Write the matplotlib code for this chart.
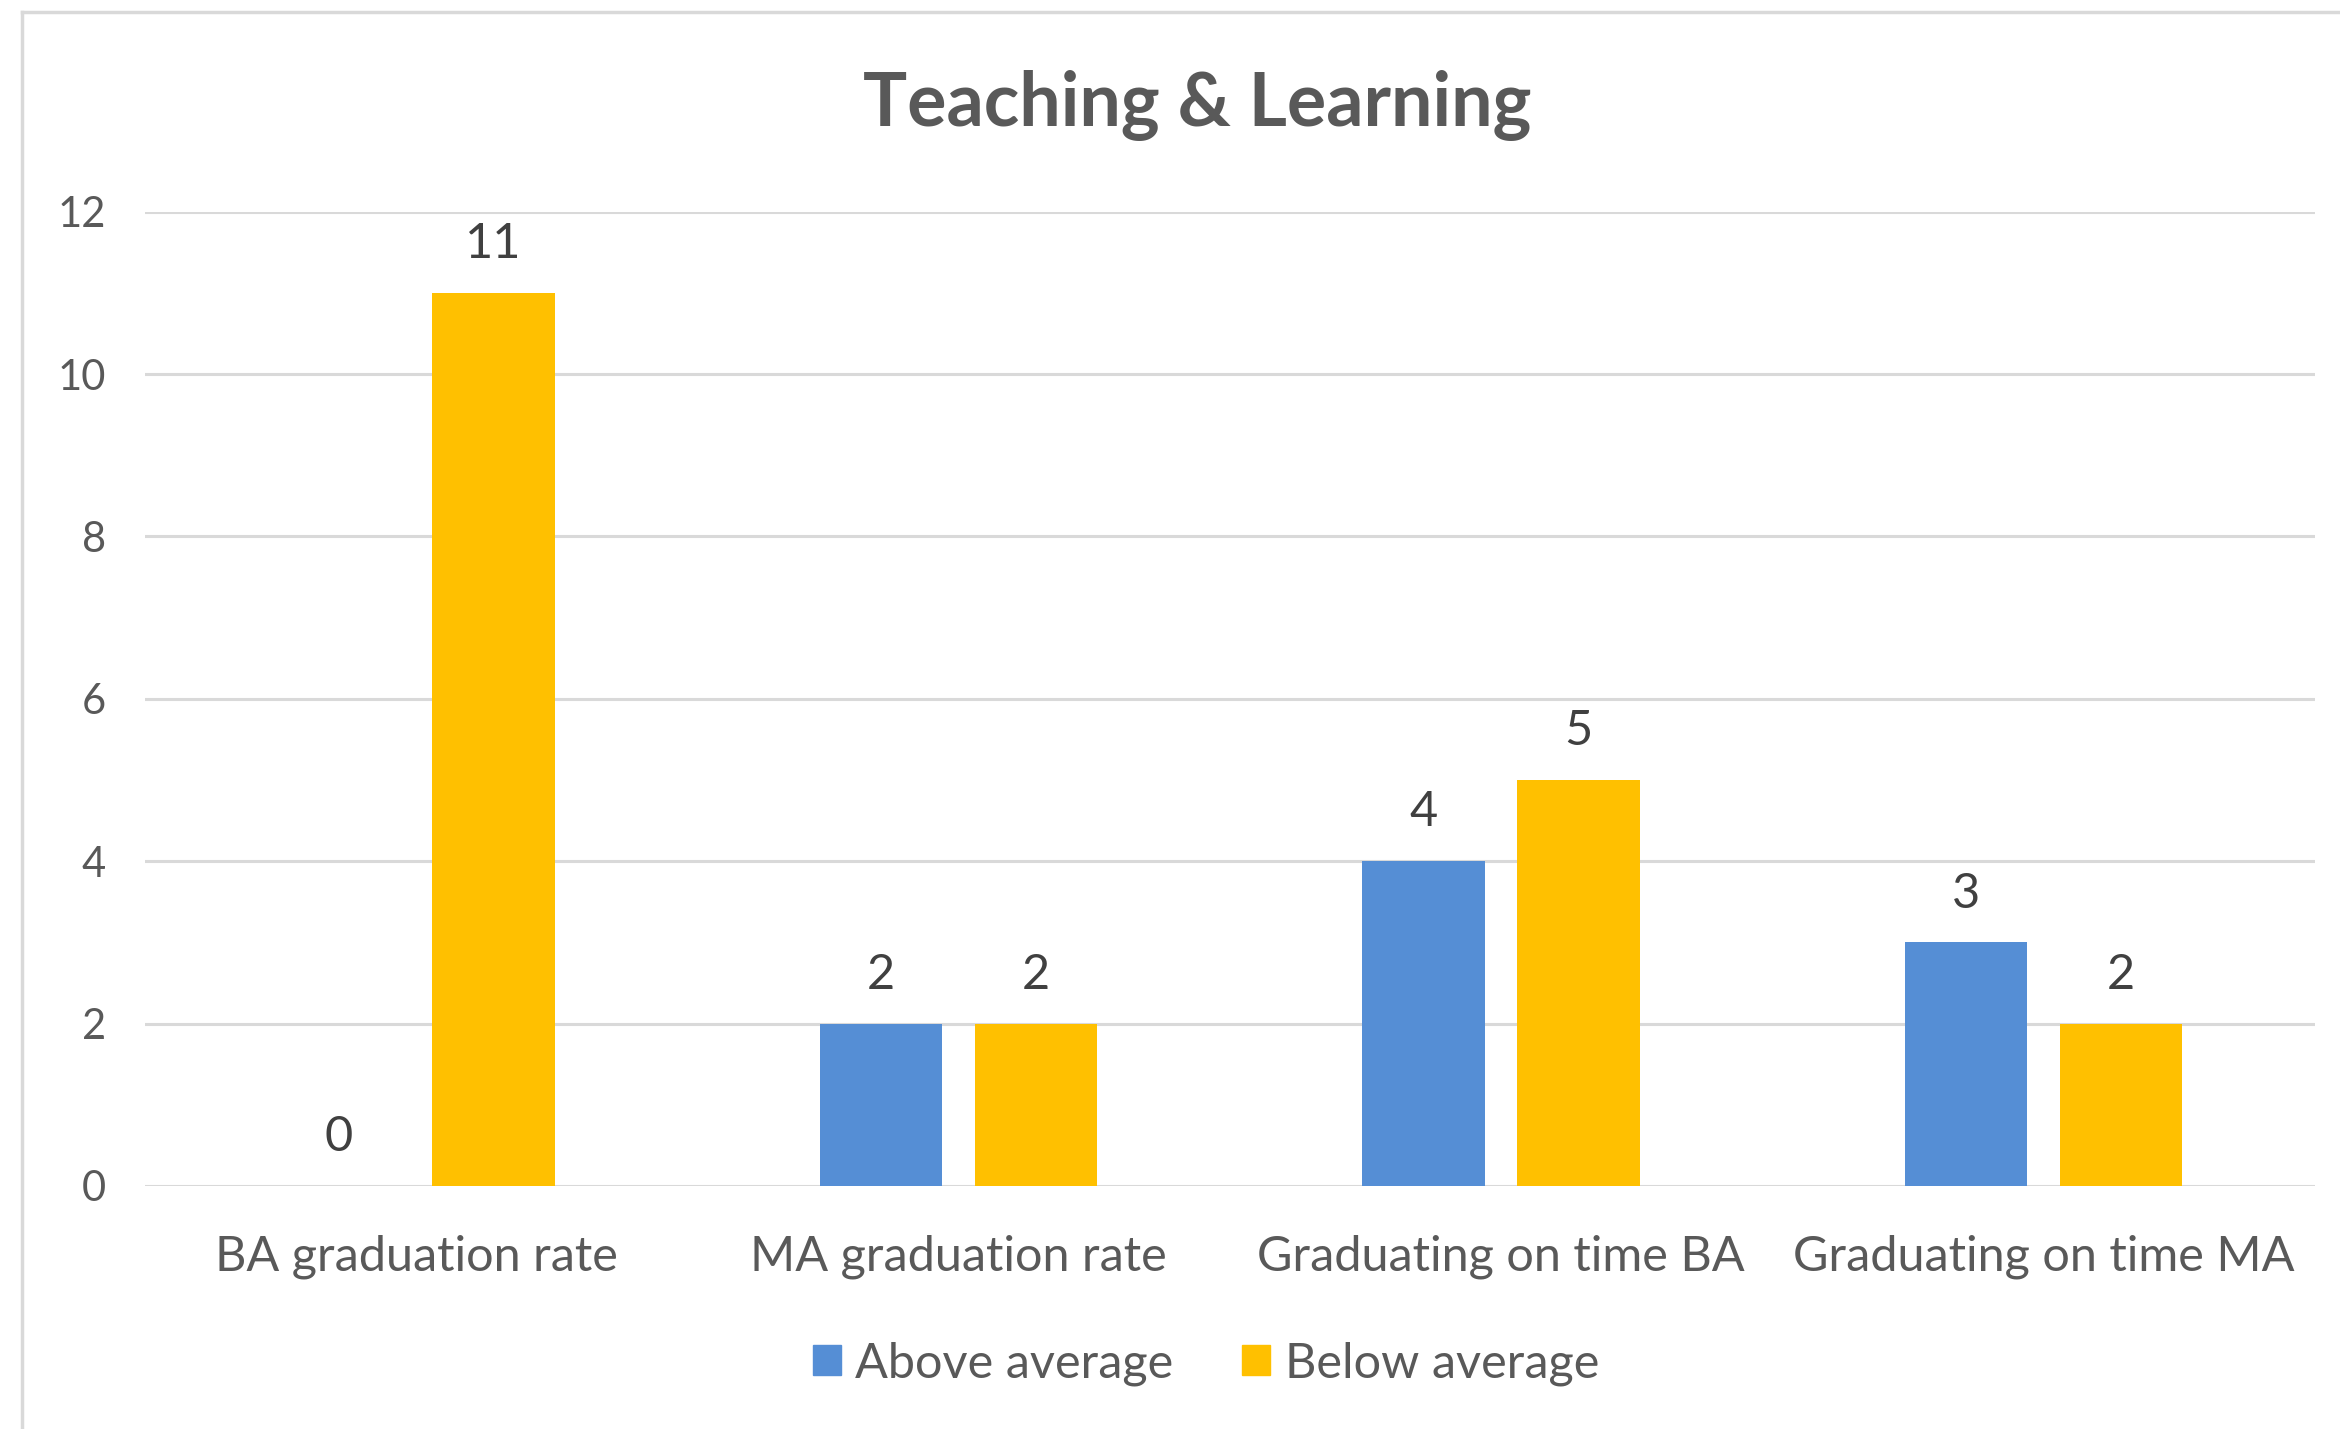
import matplotlib
matplotlib.use("Agg")
import matplotlib.pyplot as plt
import numpy as np
from matplotlib.patches import Patch
from matplotlib.lines import Line2D

categories = ["BA graduation rate", "MA graduation rate", "Graduating on time BA", "Graduating on time MA"]
above = [0, 2, 4, 3]
below = [11, 2, 5, 2]
series_names = ["Above average", "Below average"]
yticks = [0, 2, 4, 6, 8, 10, 12]

BLUE = "#558ed5"
YELLOW = "#ffc000"
GRID = "#d9d9d9"
TXT = "#595959"
LBL = "#404040"
FONT = "Lato"

fig = plt.figure(figsize=(23.4, 14.29), dpi=100)
ax = fig.add_axes([97/1568, 1 - 795/958, (1551 - 97)/1568, (795 - 142)/958])

x = np.arange(len(categories))
bw = 0.2256
gap = 0.06
off = (bw + gap) / 2
b1 = ax.bar(x - off, above, bw, color=BLUE, zorder=3)
b2 = ax.bar(x + off, below, bw, color=YELLOW, zorder=3)

for bars, vals in ((b1, above), (b2, below)):
    for r, v in zip(bars, vals):
        ax.annotate(str(v), (r.get_x() + r.get_width() / 2, v), xytext=(0, 25),
                    textcoords="offset points", ha="center", va="baseline",
                    fontsize=35, color=LBL, family=FONT)

ax.set_xlim(-0.5, len(categories) - 0.5)
ax.set_ylim(0, 12)
ax.set_yticks(yticks)
ax.set_xticks(x)
ax.set_xticklabels(categories)
for s in ax.spines.values():
    s.set_visible(False)
ax.grid(axis="y", color=GRID, linewidth=2.2, zorder=0)
ax.tick_params(axis="both", length=0)
ax.tick_params(axis="y", pad=28, labelsize=30, labelcolor=TXT)
ax.tick_params(axis="x", pad=35, labelsize=35, labelcolor=TXT)
for t in ax.get_xticklabels() + ax.get_yticklabels():
    t.set_family(FONT)

fig.text(802/1568, 1 - 71/958, "Teaching & Learning", ha="center", va="center",
         fontsize=53, fontweight="bold", color=TXT, family=FONT)

handles = [Patch(color=BLUE), Patch(color=YELLOW)]
fig.legend(handles, series_names, loc="center", bbox_to_anchor=(808/1568, 1 - 914/958),
           ncol=2, frameon=False, handlelength=0.58, handleheight=0.58,
           handletextpad=0.3, columnspacing=1.4,
           prop={"family": FONT, "size": 35}, labelcolor=TXT)

# chart border (top and left visible)
bx = 15/1568
by = 1 - 8/958
fig.add_artist(Line2D([bx, 1.0], [by, by], transform=fig.transFigure, color=GRID, linewidth=2.5))
fig.add_artist(Line2D([bx, bx], [0, by], transform=fig.transFigure, color=GRID, linewidth=2.5))

fig.savefig("out.png", dpi=100, facecolor="white")
